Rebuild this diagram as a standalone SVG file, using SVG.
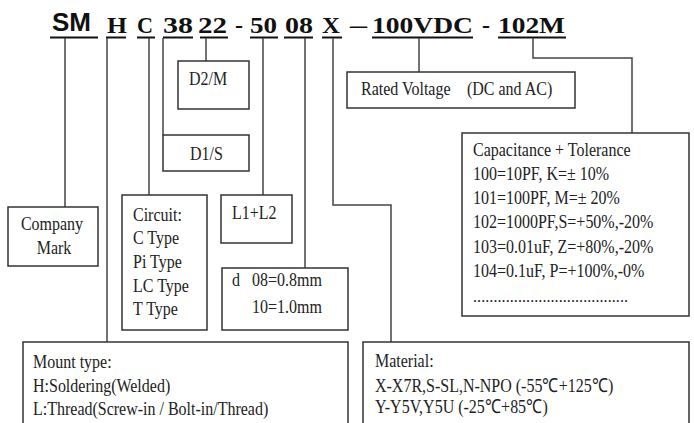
<svg xmlns="http://www.w3.org/2000/svg" width="694" height="423" viewBox="0 0 694 423">
<style>
.box{fill:#fff;stroke:#333;stroke-width:1.5}
.wire{fill:none;stroke:#444;stroke-width:1.5}
.t{font-family:"Liberation Serif","Times New Roman",serif;font-size:16px;fill:#222}
.h{font-family:"Liberation Serif","Times New Roman",serif;font-weight:bold;font-size:24px;fill:#111}
.sm{font-family:"Liberation Sans",Arial,sans-serif;font-weight:bold;font-size:25px;fill:#111}
.ul{stroke:#111;stroke-width:2}
</style>
<rect width="694" height="423" fill="#fff"/>
<g id="header">
<text class="sm" x="52" y="31" textLength="39" lengthAdjust="spacingAndGlyphs">SM</text>
<text class="h" x="107" y="33" textLength="20" lengthAdjust="spacingAndGlyphs">H</text>
<text class="h" x="137" y="33" textLength="16" lengthAdjust="spacingAndGlyphs">C</text>
<text class="h" x="163" y="33" textLength="30" lengthAdjust="spacingAndGlyphs">38</text>
<text class="h" x="198" y="33" textLength="29" lengthAdjust="spacingAndGlyphs">22</text>
<text class="h" x="235" y="33">-</text>
<text class="h" x="250" y="33" textLength="27" lengthAdjust="spacingAndGlyphs">50</text>
<text class="h" x="285" y="33" textLength="28" lengthAdjust="spacingAndGlyphs">08</text>
<text class="h" x="322" y="33" textLength="18" lengthAdjust="spacingAndGlyphs">X</text>
<text class="h" x="350" y="33" textLength="17" lengthAdjust="spacingAndGlyphs">–</text>
<text class="h" x="372" y="33" textLength="101" lengthAdjust="spacingAndGlyphs">100VDC</text>
<text class="h" x="482" y="33">-</text>
<text class="h" x="498" y="33" textLength="67" lengthAdjust="spacingAndGlyphs">102M</text>
<line class="ul" x1="50" y1="37.5" x2="98" y2="37.5"/>
<line class="ul" x1="106" y1="37.5" x2="126" y2="37.5"/>
<line class="ul" x1="137" y1="37.5" x2="155" y2="37.5"/>
<line class="ul" x1="163" y1="37.5" x2="193" y2="37.5"/>
<line class="ul" x1="200" y1="37.5" x2="228" y2="37.5"/>
<line class="ul" x1="250" y1="37.5" x2="278" y2="37.5"/>
<line class="ul" x1="284" y1="37.5" x2="313" y2="37.5"/>
<line class="ul" x1="322" y1="37.5" x2="342" y2="37.5"/>
<line class="ul" x1="372" y1="37.5" x2="473" y2="37.5"/>
<line class="ul" x1="498" y1="37.5" x2="566" y2="37.5"/>
</g>
<g id="connectors">
<path class="wire" d="M65 38V207"/>
<path class="wire" d="M107 38V342"/>
<path class="wire" d="M149 38V195"/>
<path class="wire" d="M163 38V135"/>
<path class="wire" d="M206 38V61"/>
<path class="wire" d="M263 38V195"/>
<path class="wire" d="M305 38V268"/>
<path class="wire" d="M333 38V205H391V342"/>
<path class="wire" d="M419 38V72"/>
<path class="wire" d="M533 38V58H632V133"/>
</g>
<g id="company">
<rect class="box" x="8" y="207" width="90" height="59"/>
<text class="t" text-anchor="middle" transform="translate(52,230) scale(1,1.15)">Company</text>
<text class="t" text-anchor="middle" transform="translate(54,254) scale(1,1.15)">Mark</text>
</g>
<g id="d2m">
<rect class="box" x="178" y="61" width="71" height="48"/>
<text class="t" transform="translate(189,85) scale(1,1.2)">D2/M</text>
</g>
<g id="d1s">
<rect class="box" x="163" y="135" width="86" height="36"/>
<text class="t" transform="translate(190,160) scale(1,1.2)">D1/S</text>
</g>
<g id="circuit">
<rect class="box" x="122" y="195" width="85" height="135"/>
<text class="t" transform="translate(133,221) scale(1,1.2)">Circuit:</text>
<text class="t" transform="translate(133,244) scale(1,1.2)">C Type</text>
<text class="t" transform="translate(133,268) scale(1,1.2)">Pi Type</text>
<text class="t" transform="translate(133,292) scale(1,1.2)">LC Type</text>
<text class="t" transform="translate(133,315) scale(1,1.2)">T Type</text>
</g>
<g id="l1l2">
<rect class="box" x="221" y="195" width="71" height="48"/>
<text class="t" transform="translate(232,219) scale(1,1.2)">L1+L2</text>
</g>
<g id="dsize">
<rect class="box" x="222" y="268" width="126" height="62"/>
<text class="t" transform="translate(232,286) scale(1,1.2)">d</text>
<text class="t" transform="translate(252,286) scale(1,1.2)">08=0.8mm</text>
<text class="t" transform="translate(252,313) scale(1,1.2)">10=1.0mm</text>
</g>
<g id="voltage">
<rect class="box" x="347" y="72" width="228" height="36"/>
<text class="t" transform="translate(361,95) scale(1,1.2)">Rated Voltage</text>
<text class="t" transform="translate(467,95) scale(1,1.2)">(DC and AC)</text>
</g>
<g id="capacitance">
<rect class="box" x="462" y="133" width="227" height="183"/>
<text class="t" transform="translate(473,156) scale(1,1.2)">Capacitance + Tolerance</text>
<text class="t" transform="translate(473,180) scale(1,1.2)">100=10PF, K=± 10%</text>
<text class="t" transform="translate(473,204) scale(1,1.2)">101=100PF, M=± 20%</text>
<text class="t" transform="translate(473,228) scale(1,1.2)">102=1000PF,S=+50%,-20%</text>
<text class="t" transform="translate(473,253) scale(1,1.2)">103=0.01uF, Z=+80%,-20%</text>
<text class="t" transform="translate(473,277) scale(1,1.2)">104=0.1uF, P=+100%,-0%</text>
<text class="t" x="473" y="302" textLength="155" lengthAdjust="spacing">......................................</text>
</g>
<g id="mount">
<rect class="box" x="23" y="342" width="325" height="95"/>
<text class="t" transform="translate(33,368) scale(1,1.2)">Mount type:</text>
<text class="t" transform="translate(33,392) scale(1,1.2)">H:Soldering(Welded)</text>
<text class="t" transform="translate(33,415) scale(1,1.2)">L:Thread(Screw-in / Bolt-in/Thread)</text>
</g>
<g id="material">
<rect class="box" x="363" y="342" width="326" height="95"/>
<text class="t" transform="translate(375,367) scale(1,1.2)">Material:</text>
<text class="t" transform="translate(375,392) scale(1,1.2)">X-X7R,S-SL,N-NPO (-55℃+125℃)</text>
<text class="t" transform="translate(375,413) scale(1,1.2)">Y-Y5V,Y5U (-25℃+85℃)</text>
</g>
</svg>
